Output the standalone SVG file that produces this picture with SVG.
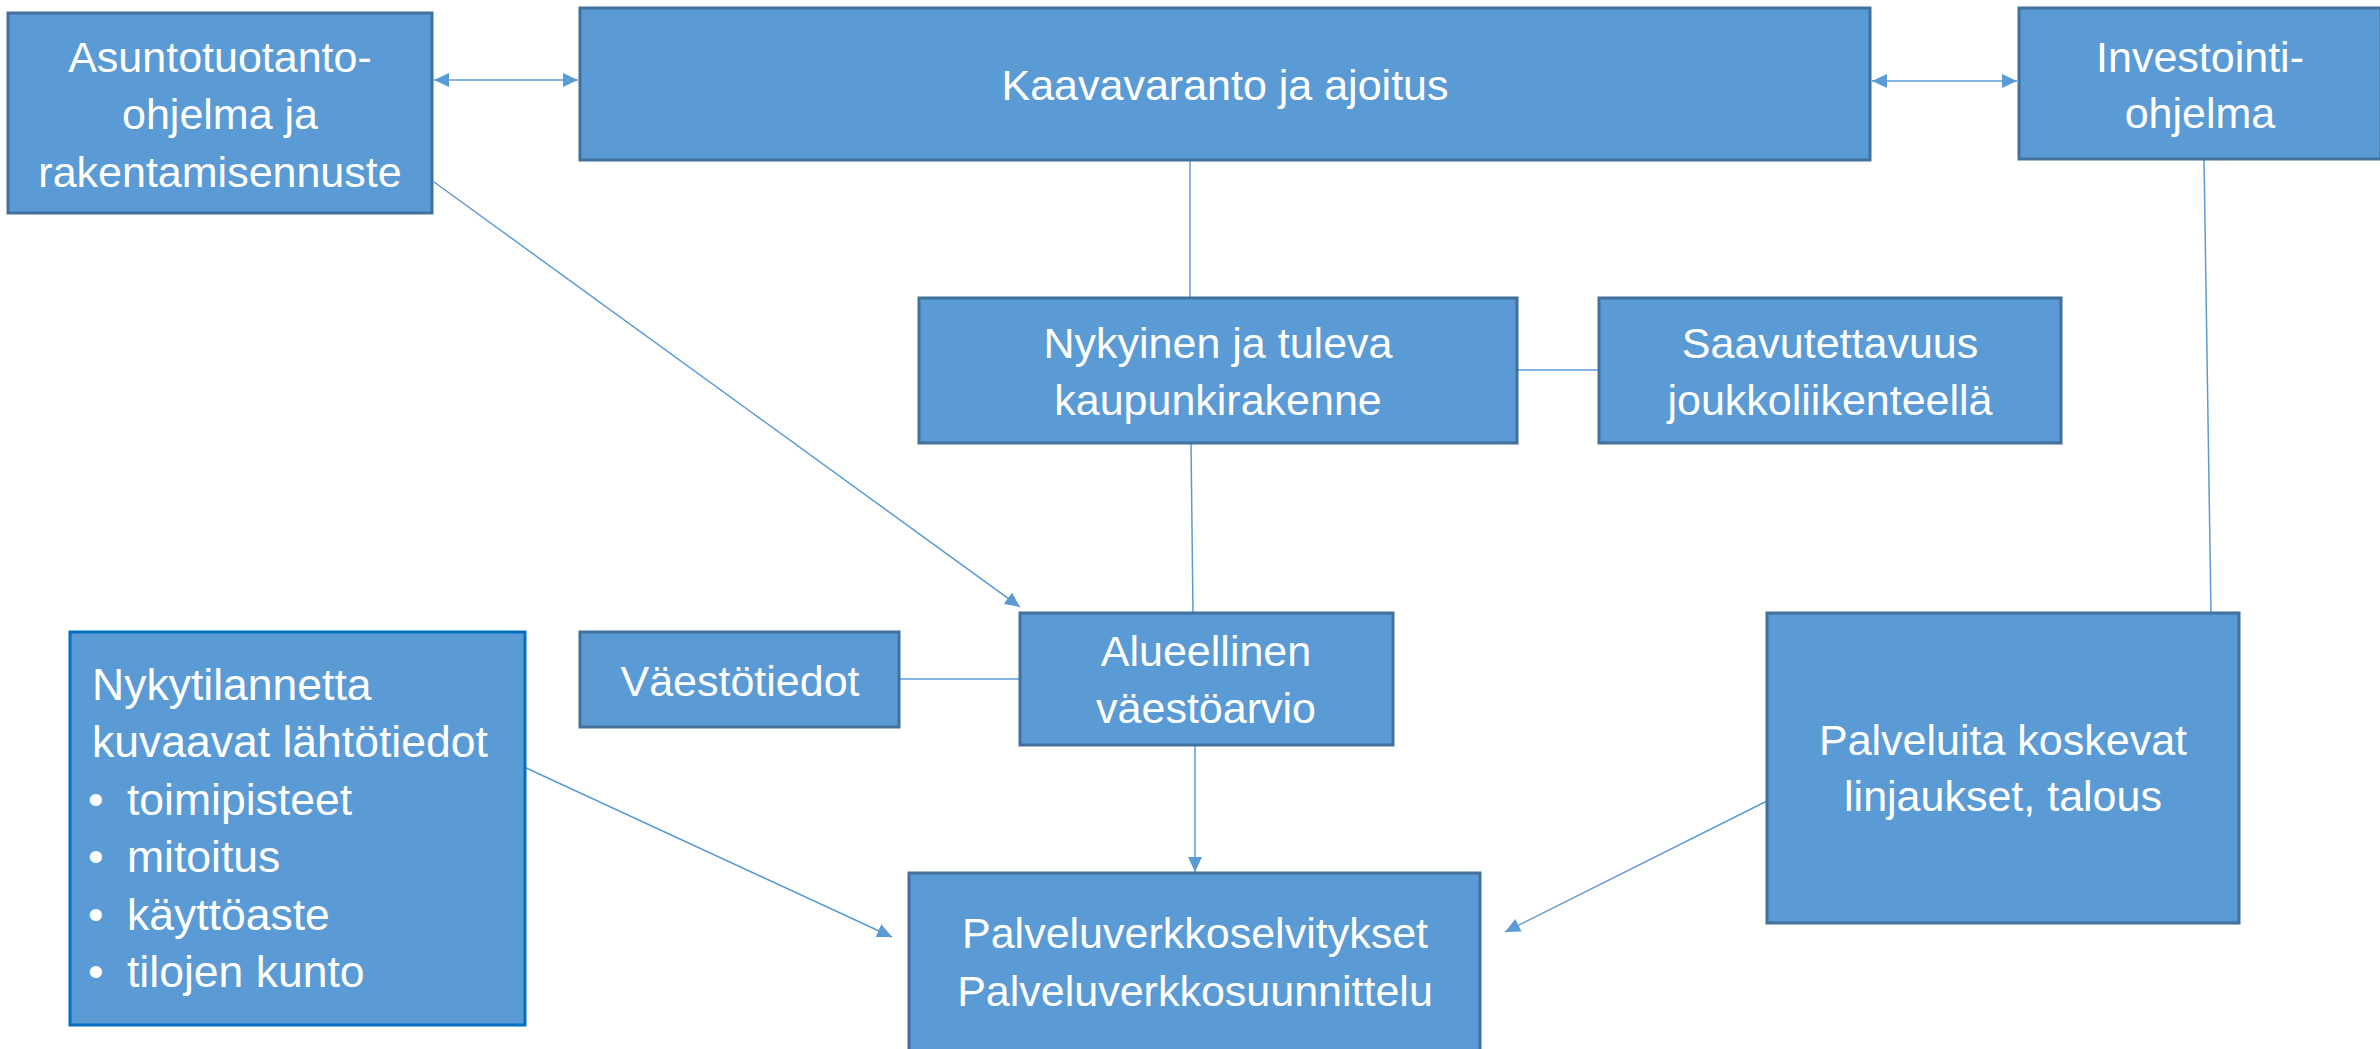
<svg xmlns="http://www.w3.org/2000/svg" width="2380" height="1049" viewBox="0 0 2380 1049">
<defs>
<style>
.box{fill:#5B9BD5;stroke:#41719C;stroke-width:3}
.box2{fill:#5B9BD5;stroke:#0070C0;stroke-width:3}
.t{font-family:"Liberation Sans",Arial,sans-serif;font-size:43px;fill:#FFFFFF;text-anchor:middle}
.tl{font-family:"Liberation Sans",Arial,sans-serif;font-size:44.5px;fill:#FFFFFF}
.c{stroke:#5B9BD5;stroke-width:1.5;fill:none}
</style>
<marker id="ah" markerUnits="userSpaceOnUse" markerWidth="16" markerHeight="14" refX="15" refY="7" orient="auto-start-reverse">
<path d="M0,0 L15,7 L0,14 z" fill="#5B9BD5"/>
</marker>
</defs>
<rect width="2380" height="1049" fill="#FFFFFF"/>
<g id="connectors">
<line class="c" x1="434" y1="80" x2="578" y2="80" marker-start="url(#ah)" marker-end="url(#ah)"/>
<line class="c" x1="1872" y1="81" x2="2017" y2="81" marker-start="url(#ah)" marker-end="url(#ah)"/>
<line class="c" x1="1190" y1="160" x2="1190" y2="298"/>
<line class="c" x1="1517" y1="370" x2="1599" y2="370"/>
<line class="c" x1="1191" y1="443" x2="1193" y2="613"/>
<line class="c" x1="899" y1="679" x2="1020" y2="679"/>
<line class="c" x1="434" y1="182" x2="1020" y2="607" marker-end="url(#ah)"/>
<line class="c" x1="1195" y1="745" x2="1195" y2="872" marker-end="url(#ah)"/>
<line class="c" x1="2204" y1="159" x2="2211" y2="613"/>
<line class="c" x1="524" y1="767" x2="892" y2="937" marker-end="url(#ah)"/>
<line class="c" x1="1767" y1="801" x2="1505" y2="932" marker-end="url(#ah)"/>
</g>
<g id="asuntotuotanto">
<rect class="box" x="8" y="13" width="424" height="200"/>
<text class="t" x="220" y="72">Asuntotuotanto-</text>
<text class="t" x="220" y="129">ohjelma ja</text>
<text class="t" x="220" y="187">rakentamisennuste</text>
</g>
<g id="kaavavaranto">
<rect class="box" x="580" y="8" width="1290" height="152"/>
<text class="t" x="1225" y="100">Kaavavaranto ja ajoitus</text>
</g>
<g id="investointi">
<rect class="box" x="2019" y="8" width="362" height="151"/>
<text class="t" x="2200" y="72">Investointi-</text>
<text class="t" x="2200" y="128">ohjelma</text>
</g>
<g id="nykyinen">
<rect class="box" x="919" y="298" width="598" height="145"/>
<text class="t" x="1218" y="358">Nykyinen ja tuleva</text>
<text class="t" x="1218" y="415">kaupunkirakenne</text>
</g>
<g id="saavutettavuus">
<rect class="box" x="1599" y="298" width="462" height="145"/>
<text class="t" x="1830" y="358">Saavutettavuus</text>
<text class="t" x="1830" y="415">joukkoliikenteellä</text>
</g>
<g id="vaestotiedot">
<rect class="box" x="580" y="632" width="319" height="95"/>
<text class="t" x="740" y="696">Väestötiedot</text>
</g>
<g id="alueellinen">
<rect class="box" x="1020" y="613" width="373" height="132"/>
<text class="t" x="1206" y="666">Alueellinen</text>
<text class="t" x="1206" y="723">väestöarvio</text>
</g>
<g id="nykytilannetta">
<rect class="box2" x="70" y="632" width="455" height="393"/>
<text class="tl" x="92" y="700">Nykytilannetta</text>
<text class="tl" x="92" y="757">kuvaavat lähtötiedot</text>
<text class="tl" x="88" y="815">•</text>
<text class="tl" x="127" y="815">toimipisteet</text>
<text class="tl" x="88" y="872">•</text>
<text class="tl" x="127" y="872">mitoitus</text>
<text class="tl" x="88" y="930">•</text>
<text class="tl" x="127" y="930">käyttöaste</text>
<text class="tl" x="88" y="987">•</text>
<text class="tl" x="127" y="987">tilojen kunto</text>
</g>
<g id="palveluita">
<rect class="box" x="1767" y="613" width="472" height="310"/>
<text class="t" x="2003" y="755">Palveluita koskevat</text>
<text class="t" x="2003" y="811">linjaukset, talous</text>
</g>
<g id="palveluverkko">
<rect class="box" x="909" y="873" width="571" height="200"/>
<text class="t" x="1195" y="948">Palveluverkkoselvitykset</text>
<text class="t" x="1195" y="1006">Palveluverkkosuunnittelu</text>
</g>
</svg>
